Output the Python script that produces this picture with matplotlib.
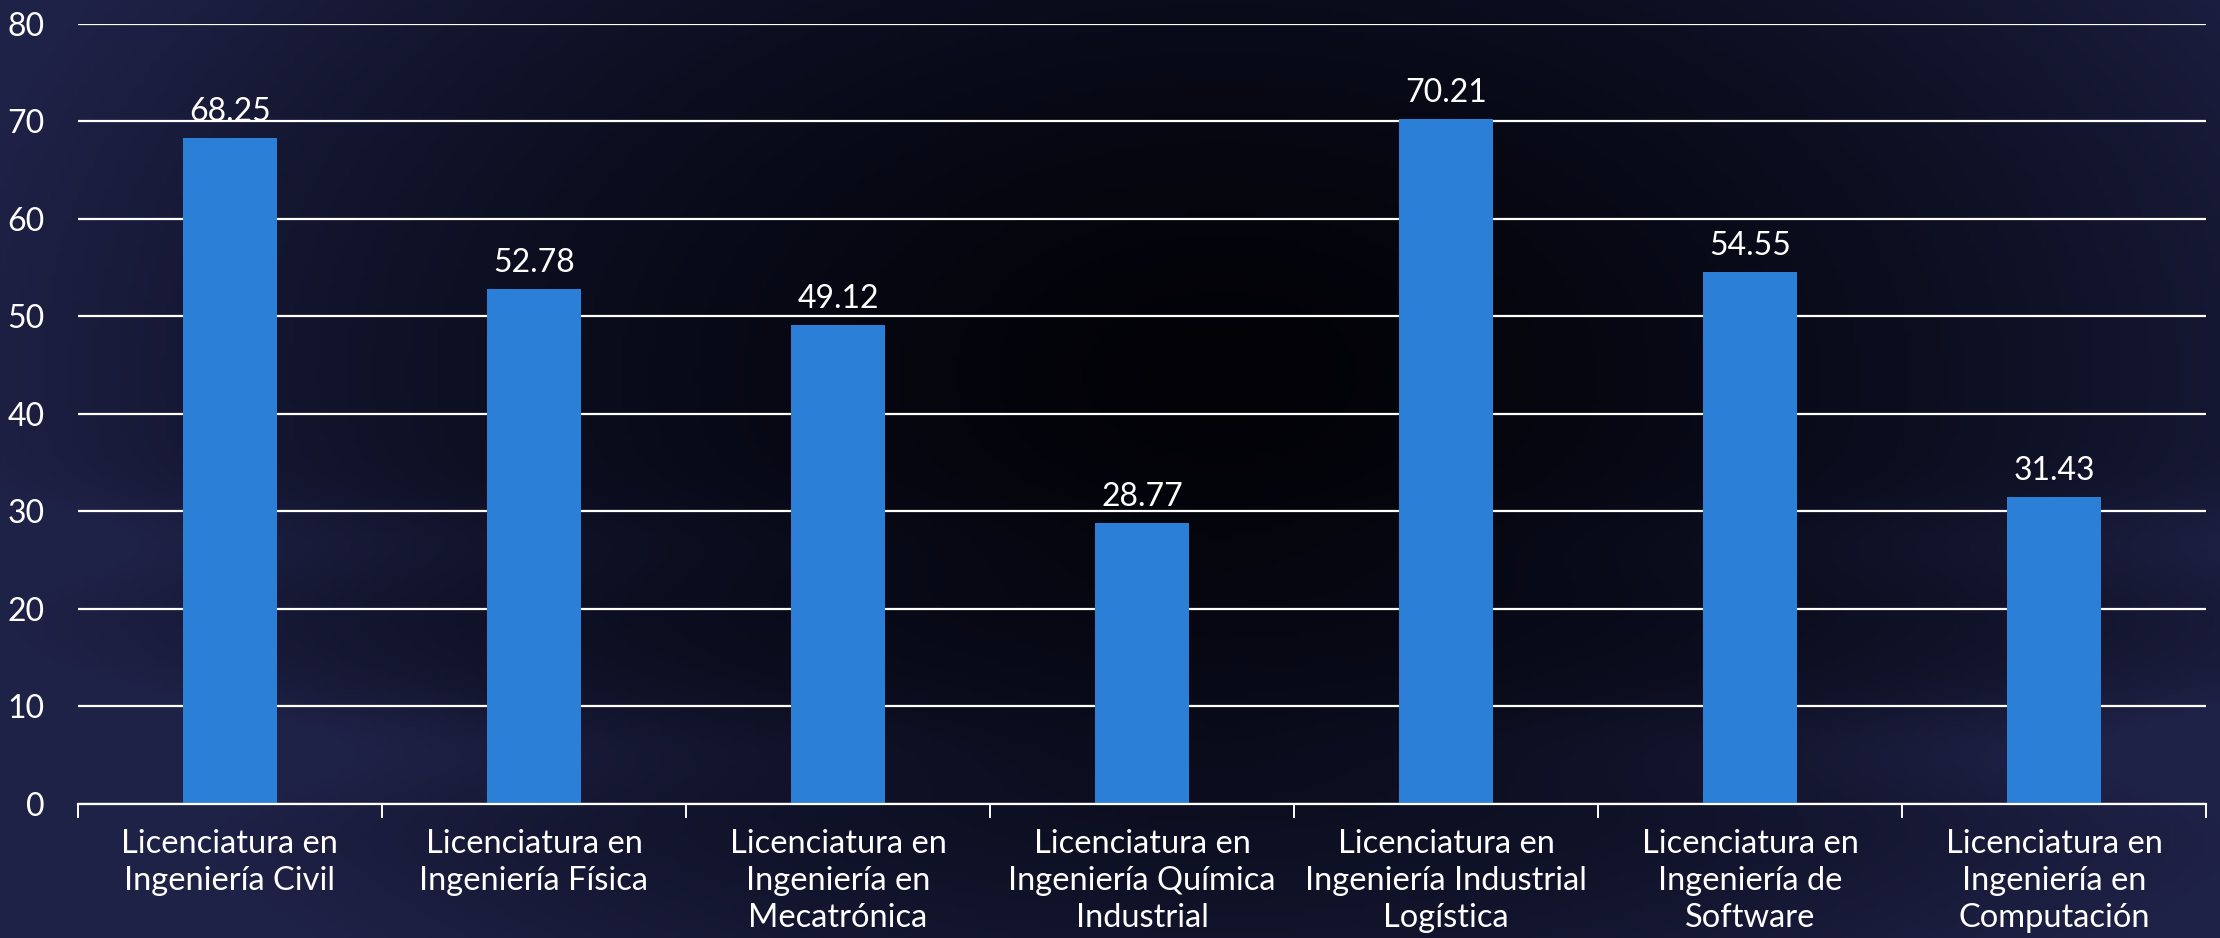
import numpy as np
import matplotlib
matplotlib.use("Agg")
import matplotlib.pyplot as plt
from matplotlib.colors import LinearSegmentedColormap

# datos del gráfico
carreras = [
    "Licenciatura en\nIngeniería Civil",
    "Licenciatura en\nIngeniería Física",
    "Licenciatura en\nIngeniería en\nMecatrónica",
    "Licenciatura en\nIngeniería Química\nIndustrial",
    "Licenciatura en\nIngeniería Industrial\nLogística",
    "Licenciatura en\nIngeniería de\nSoftware",
    "Licenciatura en\nIngeniería en\nComputación",
]
valores = [68.25, 52.78, 49.12, 28.77, 70.21, 54.55, 31.43]
yticks = [0, 10, 20, 30, 40, 50, 60, 70, 80]

plt.rcParams['font.family'] = ['Lato', 'DejaVu Sans']

fig = plt.figure(figsize=(22.2, 9.38), dpi=100)

# fondo degradado: negro al centro, azul marino en los bordes
bg = fig.add_axes([0, 0, 1, 1], zorder=-10)
gx, gy = np.meshgrid(np.linspace(0, 1, 400), np.linspace(0, 1, 200))
d = np.sqrt(((gx - 0.55) / 0.58) ** 2 + ((gy - 0.4) / 0.85) ** 2)
d = np.clip(d, 0, 1)
# bandas un poco mas claras abajo
lado = np.clip(np.abs(gx - 0.55) / 0.5, 0, 1)
banda = (np.exp(-((gy - 0.8) / 0.06) ** 2) + np.exp(-((gy - 0.58) / 0.05) ** 2) * 0.6) * 0.3 * lado
d = np.clip(d ** 1.4 + banda, 0, 1)
cmap_bg = LinearSegmentedColormap.from_list("bg", ["#020207", "#0e1024", "#1f2247"])
bg.imshow(d, cmap=cmap_bg, aspect='auto', extent=[0, 1, 0, 1], origin='upper')
bg.axis('off')

ax = fig.add_axes([0.0351, 0.1429, 0.9586, 0.8318])
ax.patch.set_alpha(0)

x = np.arange(len(valores))
barras = ax.bar(x, valores, width=0.31, color="#2b7fd6", zorder=3)

for b, v in zip(barras, valores):
    ax.annotate(f"{v:.2f}", (b.get_x() + b.get_width() / 2, v),
                xytext=(0, 8), textcoords="offset points",
                ha="center", va="bottom", color="white", fontsize=23, zorder=4)

ax.set_ylim(0, 80)
ax.set_xlim(-0.5, len(valores) - 0.5)
ax.set_yticks(yticks)
ax.set_yticklabels([str(t) for t in yticks], color="white", fontsize=23)
ax.tick_params(axis='y', length=0, pad=24)
ax.yaxis.grid(True, color="white", linewidth=1.6, zorder=0)
ax.set_axisbelow(True)

# marcas entre categorias, etiquetas en el centro
ax.set_xticks(np.arange(-0.5, len(valores), 1.0))
ax.set_xticklabels([])
ax.tick_params(axis='x', which='major', length=10, width=1.4, color="white", direction='out')
ax.set_xticks(x, minor=True)
ax.set_xticklabels(carreras, minor=True, color="white", fontsize=23.5, linespacing=1.3)
ax.tick_params(axis='x', which='minor', length=0, pad=18)

for s in ['top', 'right', 'left']:
    ax.spines[s].set_visible(False)
ax.spines['bottom'].set_color("white")
ax.spines['bottom'].set_linewidth(1.6)
ax.spines['bottom'].set_zorder(5)

fig.savefig("out.png", dpi=100)
